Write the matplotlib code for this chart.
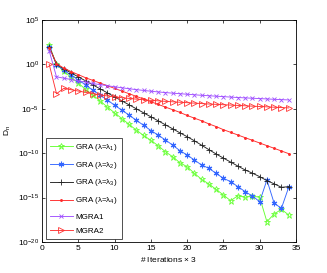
import numpy as np
import matplotlib
matplotlib.use("Agg")
import matplotlib.pyplot as plt
from matplotlib.ticker import FixedLocator, NullLocator, LogFormatterSciNotation

plt.rcParams['font.family'] = ['Liberation Sans', 'DejaVu Sans']
plt.rcParams['mathtext.fontset'] = 'custom'
plt.rcParams['mathtext.rm'] = 'Liberation Sans'
plt.rcParams['mathtext.it'] = 'Liberation Sans'

iters = list(range(1, 35))

# log10 of D_n
gra1_log = [2.2, 0.0, -0.75, -1.45, -2.1, -2.8, -3.45, -4.1, -4.8, -5.45, -6.1, -6.75,
            -7.4, -8.0, -8.55, -9.15, -9.83, -10.39, -11.07, -11.52, -12.27, -12.94,
            -13.47, -14.07, -14.71, -15.35, -14.79, -14.97, -14.82, -14.97, -17.71,
            -16.85, -16.32, -16.96]
gra2_log = [2.0, -0.05, -0.65, -1.2, -1.75, -2.3, -2.9, -3.45, -4.0, -4.6, -5.15, -5.7,
            -6.3, -6.85, -7.45, -7.95, -8.51, -9.08, -9.71, -10.2, -10.77, -11.33,
            -11.7, -12.27, -12.83, -13.2, -13.77, -14.33, -14.82, -15.46, -13.02,
            -15.64, -16.2, -13.84]
gra3_log = [2.0, 0.0, -0.5, -0.95, -1.4, -1.85, -2.3, -2.75, -3.2, -3.65, -4.1, -4.55,
            -5.0, -5.45, -5.9, -6.35, -6.8, -7.25, -7.7, -8.14, -8.6, -9.1, -9.6,
            -10.09, -10.55, -11.0, -11.45, -11.89, -12.25, -12.64, -13.09, -13.45,
            -13.84, -13.77]
gra4_log = [1.9, 0.1, -0.42, -0.8, -1.15, -1.5, -1.8, -2.1, -2.4, -2.7, -3.0, -3.3,
            -3.6, -3.9, -4.2, -4.5, -4.8, -5.1, -5.4, -5.75, -6.05, -6.35, -6.7, -7.0,
            -7.35, -7.65, -7.95, -8.25, -8.55, -8.85, -9.15, -9.45, -9.75, -10.05]
mgra1_log = [1.5, -1.4, -1.55, -1.7, -1.85, -2.0, -2.15, -2.28, -2.4, -2.52, -2.63,
             -2.74, -2.84, -2.93, -3.02, -3.1, -3.17, -3.24, -3.3, -3.36, -3.42, -3.48,
             -3.53, -3.58, -3.63, -3.68, -3.73, -3.77, -3.81, -3.85, -3.89, -3.93,
             -3.97, -4.0]
mgra2_log = [0.0, -3.3, -2.7, -2.85, -3.0, -3.15, -3.3, -3.45, -3.55, -3.65, -3.75,
             -3.83, -3.91, -3.98, -4.05, -4.1, -4.16, -4.21, -4.26, -4.31, -4.36, -4.41,
             -4.46, -4.5, -4.54, -4.58, -4.62, -4.66, -4.7, -4.74, -4.78, -4.82, -4.86,
             -4.9]

labels = [r'GRA ($\lambda$=$\lambda_1$)', r'GRA ($\lambda$=$\lambda_2$)',
          r'GRA ($\lambda$=$\lambda_3$)', r'GRA ($\lambda$=$\lambda_4$)',
          'MGRA1', 'MGRA2']
xticks = [0, 5, 10, 15, 20, 25, 30, 35]
yticks = [1e-20, 1e-15, 1e-10, 1e-5, 1e0, 1e5]

fig = plt.figure(figsize=(3.27, 2.73), dpi=100)
ax = fig.add_axes([0.1284, 0.1136, 0.7766, 0.8131])

series = [
    (gra1_log, '#66ff33', dict(marker='*', ms=4.8, mfc='none', mew=0.6)),
    (gra2_log, '#3366ff', dict(marker=(6, 2, 0), ms=4.0, mew=0.8)),
    (gra3_log, '#222222', dict(marker='+', ms=4.2, mew=0.6)),
    (gra4_log, '#ff2a2a', dict(marker='.', ms=2.2)),
    (mgra1_log, '#a050ff', dict(marker='x', ms=3.0, mew=0.6)),
    (mgra2_log, '#ff3333', dict(marker='>', ms=4.3, mfc='none', mew=0.6)),
]
for (vals, col, mk), lab in zip(series, labels):
    ax.semilogy(iters, np.power(10.0, vals), color=col, lw=0.65, label=lab, **mk)

ax.set_xlim(0, 35)
ax.set_ylim(1e-20, 1e5)
ax.xaxis.set_major_locator(FixedLocator(xticks))
ax.yaxis.set_major_locator(FixedLocator(yticks))
ax.yaxis.set_minor_locator(NullLocator())
ax.yaxis.set_major_formatter(LogFormatterSciNotation())
ax.tick_params(which='both', direction='in', top=True, right=True, length=2.5,
               width=0.5, labelsize=6, pad=2)
for s in ax.spines.values():
    s.set_linewidth(0.6)

ax.set_xlabel(r'# Iterations $\times$ 3', fontsize=6, labelpad=2)
ax.set_ylabel(r'D$_n$', fontsize=6, labelpad=4)

leg = ax.legend(loc='lower left', bbox_to_anchor=(0.014, 0.012), fontsize=5.8,
                frameon=True, fancybox=False, edgecolor='black', borderpad=0.5,
                labelspacing=0.85, handlelength=2.9, handletextpad=0.3,
                borderaxespad=0.0)
leg.get_frame().set_linewidth(0.6)

fig.savefig('out.png', dpi=100)
